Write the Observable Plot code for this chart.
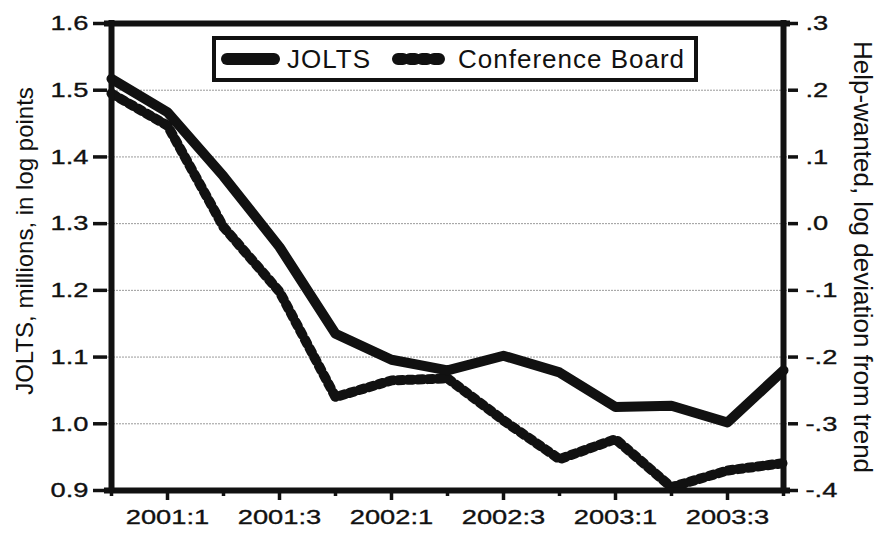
<!DOCTYPE html>
<html><head><meta charset="utf-8">
<script src="https://cdn.jsdelivr.net/npm/d3@7"></script>
<script src="https://cdn.jsdelivr.net/npm/@observablehq/plot@0.6"></script>
<style>
html,body{margin:0;padding:0;background:#fff;}
#chart{width:881px;height:533px;}
</style></head><body><div id="chart"></div>
<script>
const quarters = ["2000:4","2001:1","2001:2","2001:3","2001:4","2002:1","2002:2","2002:3","2002:4","2003:1","2003:2","2003:3","2003:4"];
const labeledQuarters = ["2001:1","2001:3","2002:1","2002:3","2003:1","2003:3"];
const joltsValues = [1.517, 1.467, 1.371, 1.265, 1.135, 1.096, 1.080, 1.102, 1.077, 1.025, 1.027, 1.002, 1.080];
const helpWantedValues = [0.195, 0.147, -0.005, -0.102, -0.260, -0.235, -0.232, -0.295, -0.353, -0.323, -0.395, -0.370, -0.359];
const leftTicks = [0.9, 1.0, 1.1, 1.2, 1.3, 1.4, 1.5, 1.6];
const rightTicks = [-0.4, -0.3, -0.2, -0.1, 0.0, 0.1, 0.2, 0.3];
const gridValues = [1.0, 1.1, 1.2, 1.3, 1.4, 1.5];
const seriesNames = ["JOLTS", "Conference Board"];
const axisTitles = ["JOLTS, millions, in log points", "Help-wanted, log deviation from trend"];
const OFFSET = 1.3; // right axis value + OFFSET = left axis value

const jolts = quarters.map((q, i) => ({q, v: joltsValues[i]}));
const hw = quarters.map((q, i) => ({q, v: helpWantedValues[i] + OFFSET}));
const minorQuarters = quarters.filter(q => !labeledQuarters.includes(q));
const fmtRight = d => (d - OFFSET).toFixed(1).replace(/^(-?)0\./, "$1.");
const yDomain = [leftTicks[0], leftTicks[leftTicks.length - 1]];
const xEnds = [quarters[0], quarters[quarters.length - 1]];

const chart = Plot.plot({
  width: 881, height: 533,
  marginLeft: 107, marginRight: 94, marginTop: 23, marginBottom: 43,
  style: {fontFamily: "'Liberation Sans', Arial, sans-serif", fontSize: "21px", background: "#fff", color: "#111"},
  x: {type: "point", domain: quarters, padding: 0},
  y: {domain: yDomain},
  marks: [
    Plot.ruleY(gridValues, {stroke: "#9a9a9a", strokeWidth: 1, strokeDasharray: "2,1"}),
    Plot.line(hw, {x: "q", y: "v", stroke: "#111", strokeWidth: 10, strokeDasharray: "5,5", strokeLinecap: "round", strokeLinejoin: "round"}),
    Plot.line(jolts, {x: "q", y: "v", stroke: "#111", strokeWidth: 10, strokeLinejoin: "round"}),
    Plot.ruleY(yDomain, {stroke: "#111", strokeWidth: 6, strokeLinecap: "square"}),
    Plot.ruleX(xEnds, {stroke: "#111", strokeWidth: 6, strokeLinecap: "square"}),
    Plot.axisY(leftTicks, {anchor: "left", tickSize: 14, tickPadding: 5, strokeWidth: 3.5, tickFormat: d => d.toFixed(1), label: null}),
    Plot.axisY(rightTicks.map(t => t + OFFSET), {anchor: "right", tickSize: 10, tickPadding: 8, strokeWidth: 3.5, tickFormat: fmtRight, label: null}),
    Plot.axisX(labeledQuarters, {anchor: "bottom", tickSize: 10, tickPadding: 9, strokeWidth: 3.5, label: null}),
    Plot.axisX(minorQuarters, {anchor: "bottom", tickSize: 6, strokeWidth: 3.5, tickFormat: () => "", label: null}),
    Plot.text([axisTitles[0]], {text: d => d, frameAnchor: "left", dx: -82, dy: -16, rotate: -90, fontSize: 24, textAnchor: "middle"}),
    Plot.text([axisTitles[1]], {text: d => d, frameAnchor: "right", dx: 75, rotate: 90, fontSize: 26, textAnchor: "middle"})
  ]
});
document.getElementById("chart").appendChild(chart);

// horizontally widen tick labels (reference glyphs are wide)
chart.querySelectorAll('g[aria-label$="tick label"] text').forEach(t => {
  const tr = t.getAttribute("transform") || "";
  t.setAttribute("transform", tr + " scale(1.3,1)");
  t.setAttribute("stroke", "#111");
  t.setAttribute("stroke-width", "0.35");
});

// legend
const svg = d3.select(chart);
const lg = svg.append("g").attr("font-family", "'Liberation Sans', Arial, sans-serif")
  .attr("fill", "#111").attr("text-anchor", "start");
lg.append("rect").attr("x", 214).attr("y", 38).attr("width", 482).attr("height", 42)
  .attr("fill", "#fff").attr("stroke", "#111").attr("stroke-width", 4);
lg.append("line").attr("x1", 227).attr("x2", 274).attr("y1", 59).attr("y2", 59)
  .attr("stroke", "#111").attr("stroke-width", 12).attr("stroke-linecap", "round");
lg.append("text").attr("x", 287).attr("y", 68).attr("font-size", 26).attr("letter-spacing", 1)
  .attr("text-anchor", "start").text(seriesNames[0]);
lg.append("line").attr("x1", 398).attr("x2", 441).attr("y1", 59).attr("y2", 59)
  .attr("stroke", "#111").attr("stroke-width", 12).attr("stroke-linecap", "round").attr("stroke-dasharray", "5,7");
lg.append("text").attr("x", 458).attr("y", 68).attr("font-size", 26).attr("letter-spacing", 1)
  .attr("text-anchor", "start").text(seriesNames[1]);
</script></body></html>
